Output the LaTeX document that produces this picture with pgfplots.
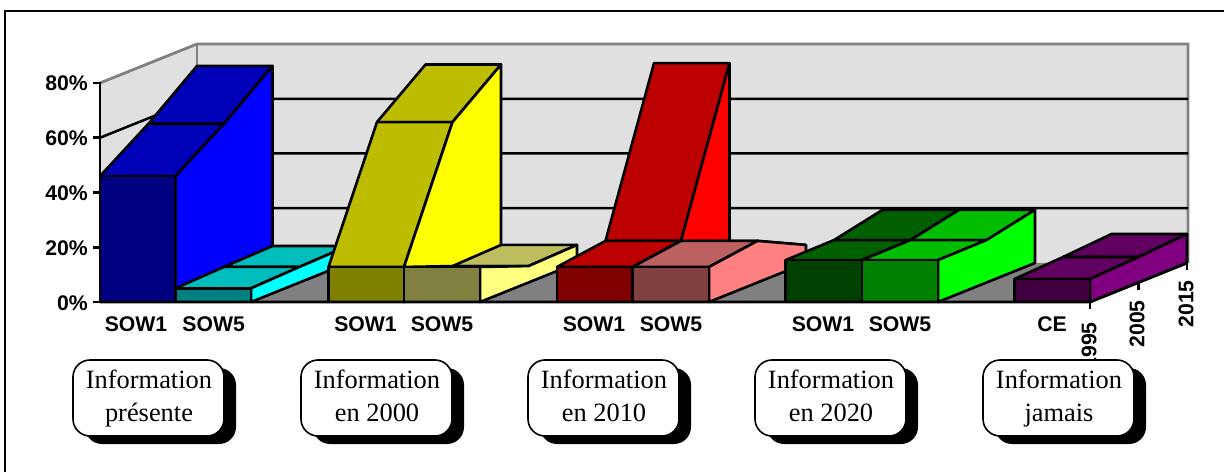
\documentclass[border=0pt]{standalone}
\usepackage{pgfplots}
\pgfplotsset{compat=1.18}
\usepackage{fontspec}
\setmainfont{Liberation Serif}
\newfontfamily\axisfont{Liberation Sans}[BoldFont={Liberation Sans Bold}]
\definecolor{wallc}{HTML}{E0E0E0}
\definecolor{floorc}{HTML}{808080}
\definecolor{aF}{HTML}{000080}\definecolor{aT}{HTML}{0000B8}\definecolor{aS}{HTML}{0000FF}
\definecolor{bF}{HTML}{008080}\definecolor{bT}{HTML}{00BDBD}\definecolor{bS}{HTML}{00FFFF}
\definecolor{cF}{HTML}{808000}\definecolor{cT}{HTML}{BDBD00}\definecolor{cS}{HTML}{FFFF00}
\definecolor{dF}{HTML}{808040}\definecolor{dT}{HTML}{BDBD60}\definecolor{dS}{HTML}{FFFF80}
\definecolor{eF}{HTML}{800000}\definecolor{eT}{HTML}{BD0000}\definecolor{eS}{HTML}{FF0000}
\definecolor{fF}{HTML}{804040}\definecolor{fT}{HTML}{BD6060}\definecolor{fS}{HTML}{FF8080}
\definecolor{gF}{HTML}{004000}\definecolor{gT}{HTML}{006000}\definecolor{gS}{HTML}{008000}
\definecolor{hF}{HTML}{008000}\definecolor{hT}{HTML}{00BD00}\definecolor{hS}{HTML}{00FF00}
\definecolor{iF}{HTML}{400040}\definecolor{iT}{HTML}{600060}\definecolor{iS}{HTML}{800080}
% one 3D column: x-left, x-right, value at depth 0,1,2, then front, top, side colours
\newcommand{\column}[8]{%
  \addplot3[fill=#7,draw=black,line width=2.6pt,line join=round] coordinates {(#1,1,#4) (#2,1,#4) (#2,2,#5) (#1,2,#5)} -- cycle;
  \addplot3[fill=#7,draw=black,line width=2.6pt,line join=round] coordinates {(#1,0,#3) (#2,0,#3) (#2,1,#4) (#1,1,#4)} -- cycle;
  \addplot3[fill=#8,draw=black,line width=2.6pt,line join=round] coordinates {(#2,0,#3) (#2,1,#4) (#2,2,#5) (#2,2,0) (#2,0,0)} -- cycle;
  \addplot3[fill=#6,draw=black,line width=2.6pt,line join=round] coordinates {(#1,0,0) (#2,0,0) (#2,0,#3) (#1,0,#3)} -- cycle;
}
\newcommand{\infobox}[3]{%
  \fill[black,rounded corners=17pt] (#1+12,368) rectangle (#1+163,444);
  \draw[black,fill=white,line width=1.6pt,rounded corners=17pt] (#1,360) rectangle (#1+151,436);
  \node[font=\fontsize{26.4}{30}\selectfont,inner sep=0pt,anchor=base] at (#1+76,388) {#2};
  \node[font=\fontsize{26.4}{30}\selectfont,inner sep=0pt,anchor=base] at (#1+76,421) {#3};
}
\begin{document}
\begin{tikzpicture}[x=1pt,y=1pt]
\useasboundingbox (0,0) rectangle (1224,472);
\begin{scope}[yshift=472pt,y=-1pt]
\fill[white] (0,0) rectangle (1224,472);
\draw[black,line width=2.4pt] (5,472) -- (5,11) -- (1224,11);
\end{scope}
\begin{axis}[
  at={(100pt,170pt)},anchor=origin,
  x={(1pt,0pt)},y={(48.5pt,19.5pt)},z={(0pt,2.7375pt)},
  xmin=0,xmax=1089,ymin=0,ymax=2,zmin=0,zmax=80,
  hide axis,clip=false]
% walls and floor
\addplot3[fill=wallc,draw=none] coordinates {(0,0,0) (0,2,0) (0,2,80) (0,0,80)} -- cycle;
\addplot3[fill=wallc,draw=none] coordinates {(0,2,0) (991,2,0) (991,2,80) (0,2,80)} -- cycle;
\addplot3[fill=floorc,draw=none] coordinates {(0,0,0) (991,0,0) (991,2,0) (0,2,0)} -- cycle;
% wall edges
\addplot3[color=floorc,line width=2.8pt] coordinates {(0,0,80) (0,2,80) (991,2,80) (991,2,0)};
\addplot3[color=floorc,line width=2.8pt] coordinates {(0,2,80) (0,2,0)};
% grid
\addplot3[black,line width=2.5pt] coordinates {(0,0,20) (0,2,20) (991,2,20)};
\addplot3[black,line width=2.5pt] coordinates {(0,0,40) (0,2,40) (991,2,40)};
\addplot3[black,line width=2.5pt] coordinates {(0,0,60) (0,2,60) (991,2,60)};
% columns
\column{0}{75.5}{46}{58}{72}{aF}{aT}{aS}
\column{75.5}{151}{5}{5.7}{6.2}{bF}{bT}{bS}
\column{228.5}{304}{12.8}{58.6}{72.5}{cF}{cT}{cS}
\column{304}{380}{12.8}{6}{6.6}{dF}{dT}{dS}
\column{457}{532.5}{12.8}{15.2}{73}{eF}{eT}{eS}
\column{532.5}{609}{12.8}{15.2}{6.6}{fF}{fT}{fS}
\column{685.5}{762}{15.3}{15.5}{19.4}{gF}{gT}{gS}
\column{762}{838}{15.3}{15.5}{19.4}{hF}{hT}{hS}
\column{914.5}{990}{8.4}{9.3}{10.6}{iF}{iT}{iS}
% axes
\addplot3[black,line width=2.6pt] coordinates {(-7,0,80) (0,0,80) (0,0,0) (-7,0,0)};
\addplot3[black,line width=2.6pt] coordinates {(-7,0,60) (0,0,60)};
\addplot3[black,line width=2.6pt] coordinates {(-7,0,40) (0,0,40)};
\addplot3[black,line width=2.6pt] coordinates {(-7,0,20) (0,0,20)};
\addplot3[black,line width=2.6pt] coordinates {(0,0,0) (990,0,0) (990,2,0)};
\addplot3[black,line width=2.6pt] coordinates {(990,0,0) (990,0,-2.6)};
\addplot3[black,line width=2.6pt] coordinates {(990,1,0) (990,1,-2.6)};
\addplot3[black,line width=2.6pt] coordinates {(990,2,0) (990,2,-2.6)};
\end{axis}
\begin{scope}[yshift=472pt,y=-1pt,every node/.style={inner sep=0pt}]
\axisfont\bfseries\fontsize{21.2}{24}\selectfont
\node[anchor=east] at (88,83) {80\%};
\node[anchor=east] at (88,138) {60\%};
\node[anchor=east] at (88,193) {40\%};
\node[anchor=east] at (88,248) {20\%};
\node[anchor=east] at (88,303) {0\%};
\foreach \x/\t in {136/SOW1,213.7/SOW5,365.5/SOW1,442/SOW5,594/SOW1,671/SOW5,823/SOW1,900/SOW5,1052/CE}
  \node[anchor=base] at (\x,331) {\t};
\node[rotate=90,anchor=east] at (1089,322) {1995};
\node[rotate=90,anchor=east] at (1137,300) {2005};
\node[rotate=90,anchor=east] at (1186,280) {2015};
\normalfont
\infobox{73}{Information}{présente}
\infobox{301}{Information}{en 2000}
\infobox{528}{Information}{en 2010}
\infobox{755}{Information}{en 2020}
\infobox{983}{Information}{jamais}
\end{scope}
\end{tikzpicture}
\end{document}
